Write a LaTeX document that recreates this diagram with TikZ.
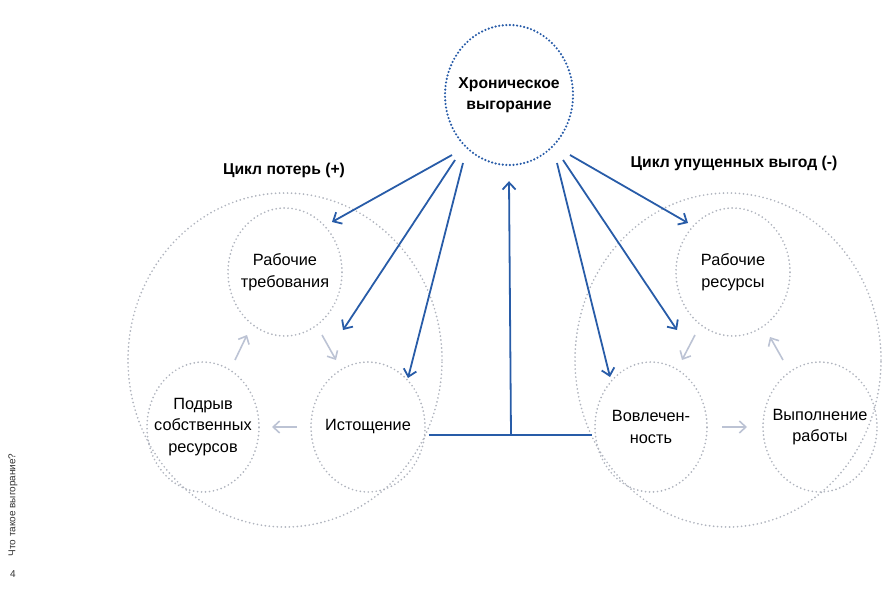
\documentclass[tikz,border=0pt]{standalone}
\usepackage{fontspec}
\setmainfont{Liberation Sans}
\usetikzlibrary{shapes.geometric,arrows.meta}
\definecolor{bl}{RGB}{40,92,168}
\definecolor{gdot}{RGB}{176,180,190}
\definecolor{garr}{RGB}{188,195,212}
\begin{document}
\begin{tikzpicture}[x=1pt,y=-1pt,
  ring/.style={ellipse, draw=gdot, line width=1.9pt, dash pattern=on 0pt off 4pt, line cap=round, inner sep=0pt},
  topring/.style={ellipse, draw=bl, line width=2.4pt, dash pattern=on 0pt off 3.6pt, line cap=round, inner sep=0pt},
  lbl/.style={align=center, font=\fontsize{16.3}{21.5}\selectfont, inner sep=0pt},
  head/.style={align=center, font=\bfseries\fontsize{15.7}{21}\selectfont, inner sep=0pt},
  barrow/.style={draw=bl, line width=1.8pt, -{Straight Barb[length=7pt,width=13pt,line width=1.8pt]}},
  garrow/.style={draw=garr, line width=1.6pt, -{Straight Barb[length=6.5pt,width=12pt,line width=1.6pt]}},
  bline/.style={draw=bl, line width=1.8pt}]
\useasboundingbox (0,0) rectangle (883,604);

% big rings
\node[ring, minimum width=314pt, minimum height=334pt] (bigL) at (285,360) {};
\node[ring, minimum width=306pt, minimum height=334pt] (bigR) at (728,360) {};

% small rings left
\node[ring, minimum width=114pt, minimum height=128pt] (rt) at (285,272) {};
\node[ring, minimum width=112pt, minimum height=130pt] (pr) at (203,427) {};
\node[ring, minimum width=114pt, minimum height=130pt] (ist) at (368,427) {};
% small rings right
\node[ring, minimum width=114pt, minimum height=128pt] (rr) at (733,272) {};
\node[ring, minimum width=112pt, minimum height=130pt] (vov) at (651,427) {};
\node[ring, minimum width=114pt, minimum height=130pt] (vyp) at (820,427) {};

% top
\node[topring, minimum width=128pt, minimum height=140pt] (top) at (509,95) {};
\node[head] (topt) at (top.center) {Хроническое\\выгорание};

% labels
\node[lbl] (rtt) at (rt.center) {Рабочие\\требования};
\node[lbl] (prt) at (pr.center) {Подрыв\\собственных\\ресурсов};
\node[lbl] (istt) at (ist.center) {Истощение};
\node[lbl] (rrt) at (rr.center) {Рабочие\\ресурсы};
\node[lbl] (vovt) at (vov.center) {Вовлечен-\\ность};
\node[lbl] (vypt) at (vyp.center) {Выполнение\\работы};

\node[head] (cl) at (284,170) {Цикл потерь (+)};
\node[head] (cr) at (734,163) {Цикл упущенных выгод (-)};

% side text
\node[rotate=90, font=\fontsize{10}{12}\selectfont, text=black!80, inner sep=0pt] (side) at (13,505) {Что такое выгорание?};
\node[font=\fontsize{10}{12}\selectfont, text=black!80, inner sep=0pt] (pg) at (13,574) {4};

% gray cycle arrows
\draw[garrow] ([shift={(37,63)}]rt.center) -- ([shift={(-32,-67)}]ist.center);
\draw[garrow] ([shift={(32,-67)}]pr.center) -- ([shift={(-38,63)}]rt.center);
\draw[garrow] ([shift={(-71,0)}]ist.center) -- ([shift={(69,0)}]pr.center);
\draw[garrow] ([shift={(-38,63)}]rr.center) -- ([shift={(31,-67)}]vov.center);
\draw[garrow] ([shift={(-37,-67)}]vyp.center) -- ([shift={(37,65)}]rr.center);
\draw[garrow] ([shift={(71,0)}]vov.center) -- ([shift={(-73,0)}]vyp.center);

% blue arrows
\draw[barrow] ([shift={(-57,60)}]top.center) -- ([shift={(47,-50)}]rt.center);
\draw[barrow] ([shift={(-54,65)}]top.center) -- ([shift={(-25,-97)}]ist.center);
\draw[barrow] ([shift={(-46,68)}]top.center) -- ([shift={(40,-49)}]ist.center);
\draw[barrow] ([shift={(61,60)}]top.center) -- ([shift={(-45,-49)}]rr.center);
\draw[barrow] ([shift={(54,65)}]top.center) -- ([shift={(26,-97)}]vov.center);
\draw[barrow] ([shift={(48,68)}]top.center) -- ([shift={(-41,-50)}]vov.center);

% connector between cycles
\draw[bline] ([shift={(3,8)}]ist.east) -- ([shift={(-2,8)}]vov.west);
\coordinate (jn) at (511,435);
\draw[barrow] (jn) -- ([yshift=-15pt]top.south);
\end{tikzpicture}
\end{document}
